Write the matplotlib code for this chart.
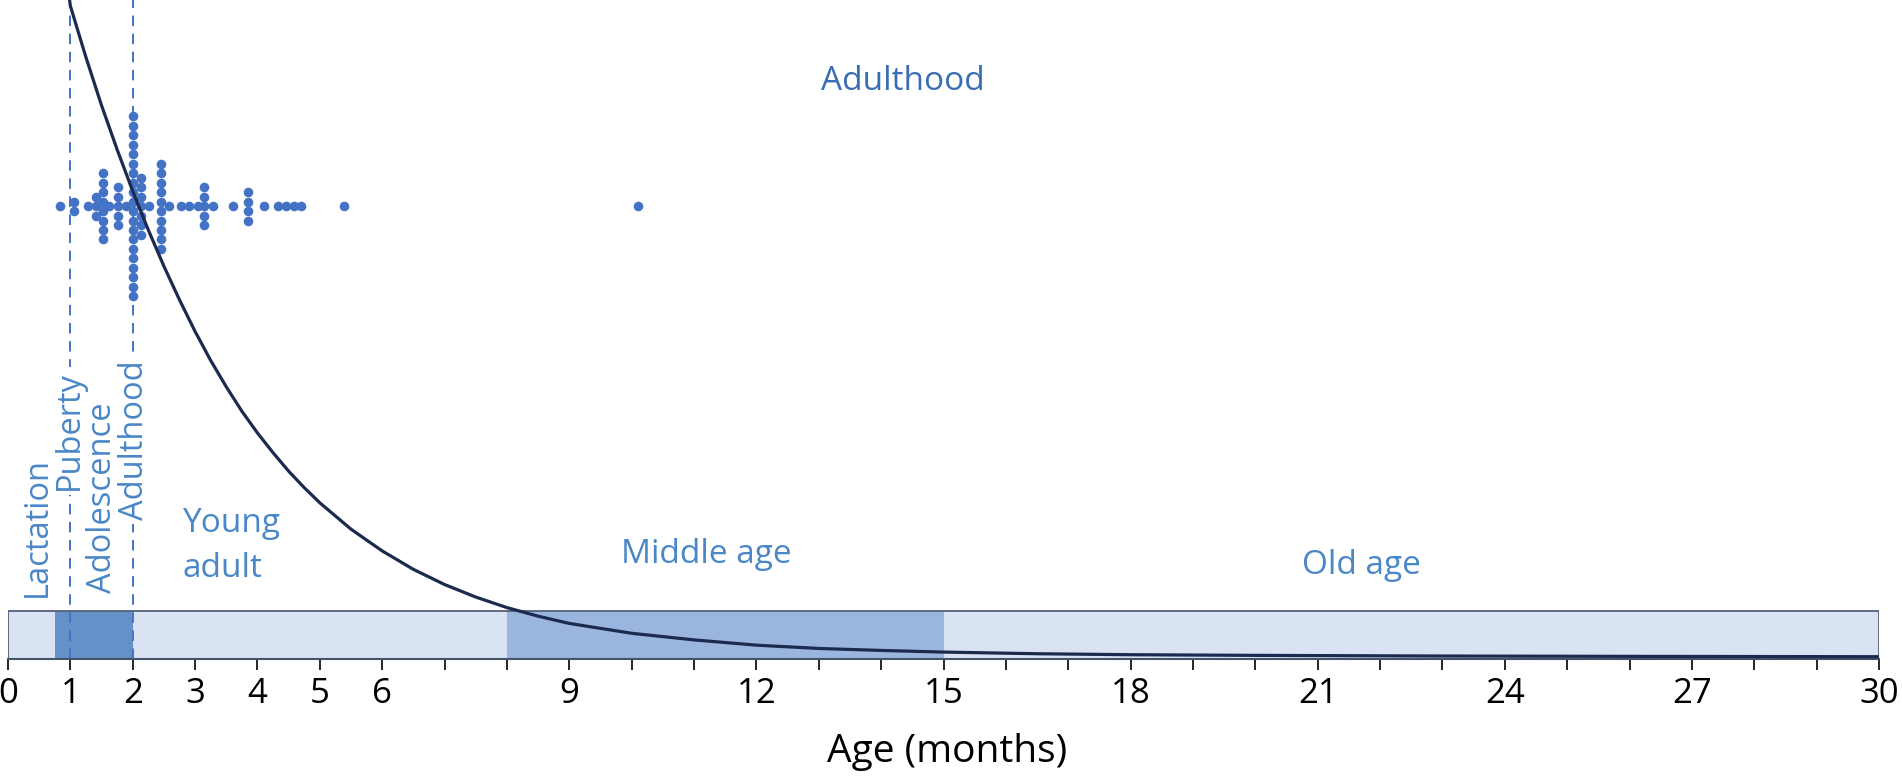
import numpy as np
import matplotlib
matplotlib.use("Agg")
import matplotlib.pyplot as plt

plt.rcParams['font.family'] = ['Open Sans', 'DejaVu Sans']

# ── data ────────────────────────────────────────────────────────────────────
# reported ages (months) and how many dots sit on each value
dot_ages   = [0.83, 1.06, 1.28, 1.41, 1.52, 1.62, 1.76, 1.89, 2.00, 2.13, 2.26,
              2.45, 2.58, 2.77, 2.90, 3.04, 3.14, 3.28, 3.60, 3.85, 4.10, 4.33,
              4.46, 4.58, 4.70, 5.38, 10.1]
dot_counts = [1, 2, 1, 3, 8, 1, 5, 1, 20, 7, 1,
              10, 1, 1, 1, 1, 5, 1, 1, 4, 1, 1,
              1, 1, 1, 1, 1]

# decay curve (relative units, axis = 0, top of panel = 100)
curve_x = [0.93, 1.0, 1.25, 1.5, 1.75, 2.0, 2.25, 2.5, 2.75, 3.0, 3.25, 3.5,
           3.75, 4.0, 4.25, 4.5, 4.75, 5.0, 5.5, 6.0, 6.5, 7.0, 7.5, 8.0,
           8.5, 9.0, 10.0, 11.0, 12.0, 13.0, 14.0, 15.0, 16.5, 18.0, 20.0,
           23.0, 26.0, 30.0]
curve_y = [104, 99.1, 91.3, 84.0, 77.3, 71.0, 65.1, 59.6, 54.5, 49.7, 45.3,
           41.3, 37.6, 34.3, 31.3, 28.5, 26.0, 23.7, 19.7, 16.4, 13.6, 11.3,
           9.4, 7.8, 6.5, 5.4, 3.9, 2.9, 2.1, 1.6, 1.3, 1.05, 0.8, 0.65,
           0.55, 0.45, 0.4, 0.35]

# life-stage bar segments (months)
seg_start  = [0.75, 8]
seg_end    = [2, 15]
seg_colors = ['#6590C8', '#9AB6DF']
boundaries = [1, 2]

tick_pos    = list(range(0, 31))
tick_labels = ['0', '1', '2', '3', '4', '5', '6', '9', '12', '15', '18', '21',
               '24', '27', '30']

# ── figure ─────────────────────────────────────────────────────────────────
W, H = 1902, 777
fig = plt.figure(figsize=(W / 100, H / 100), dpi=100)
ax = fig.add_axes([8 / W, 118 / H, 1871 / W, 659 / H])
ax.set_xlim(0, 30)
ax.set_ylim(0, 100)

BAR_H = 7.3
BLUE_TXT = '#4A87C6'

# stage bar
ax.bar(0, BAR_H, width=30, align='edge', color='#DAE3F3', zorder=1)
for s, e, c in zip(seg_start, seg_end, seg_colors):
    ax.bar(s, BAR_H, width=e - s, align='edge', color=c, zorder=1.5)
ax.bar(0, BAR_H, width=30, align='edge', facecolor='none',
       edgecolor='#55617A', linewidth=1.3, zorder=2)

# dashed boundaries
for b in boundaries:
    ax.axvline(b, color='#4472C4', lw=1.4, linestyle=(0, (5.4, 3.9)), zorder=2.5)

# column scatter (stacked dots per value)
BASE_Y = 68.7
STEP = 1.44
xs, ys = [], []
for a, n in zip(dot_ages, dot_counts):
    for i in range(n):
        xs.append(a)
        ys.append(BASE_Y + (i - (n - 1) / 2) * STEP)
ax.scatter(xs, ys, s=48, color='#4472C4', linewidths=0, zorder=3)

# decay curve
ax.plot(curve_x, curve_y, color='#1B2A4E', lw=2.3, zorder=4,
        solid_capstyle='butt')

# labels
ax.text(14.35, 87.7, 'Adulthood', color='#3A6EB2', fontsize=24,
        ha='center', va='center')
ax.text(2.8, 19.3, 'Young', color=BLUE_TXT, fontsize=24, ha='left', va='baseline')
ax.text(2.8, 12.4, 'adult', color=BLUE_TXT, fontsize=24, ha='left', va='baseline')
ax.text(11.2, 14.6, 'Middle age', color=BLUE_TXT, fontsize=24,
        ha='center', va='baseline')
ax.text(21.7, 12.9, 'Old age', color=BLUE_TXT, fontsize=24,
        ha='center', va='baseline')

# stage names written on the dashed lines get a white backing
vert = [('Puberty', 1.12, 25.6, True), ('Adulthood', 2.17, 21.1, True),
        ('Lactation', 0.60, 9.4, False), ('Adolescence', 1.65, 10.0, False)]
for i, (txt, x, y, boxed) in enumerate(vert):
    kw = {}
    if boxed:
        kw['bbox'] = dict(facecolor='white', edgecolor='none', pad=3)
    ax.text(x, y, txt, color=BLUE_TXT, fontsize=23.5, rotation=90,
            rotation_mode='anchor', ha='left', va='baseline',
            zorder=5 + i, **kw)

# axes styling
for sp in ['left', 'right', 'top']:
    ax.spines[sp].set_visible(False)
ax.spines['bottom'].set_color('#44546A')
ax.spines['bottom'].set_linewidth(1.5)
ax.set_yticks([])
ax.set_xticks(tick_pos)
ax.set_xticklabels([str(t) if str(t) in tick_labels else '' for t in tick_pos])
ax.tick_params(axis='x', direction='out', length=8, width=1.2, color='black',
               labelsize=25, pad=5)

ax.set_xlabel('Age (months)', fontsize=28)
ax.xaxis.label.set_va('baseline')
ax.xaxis.set_label_coords(0.502, -0.156)

fig.savefig('out.png', dpi=100)
